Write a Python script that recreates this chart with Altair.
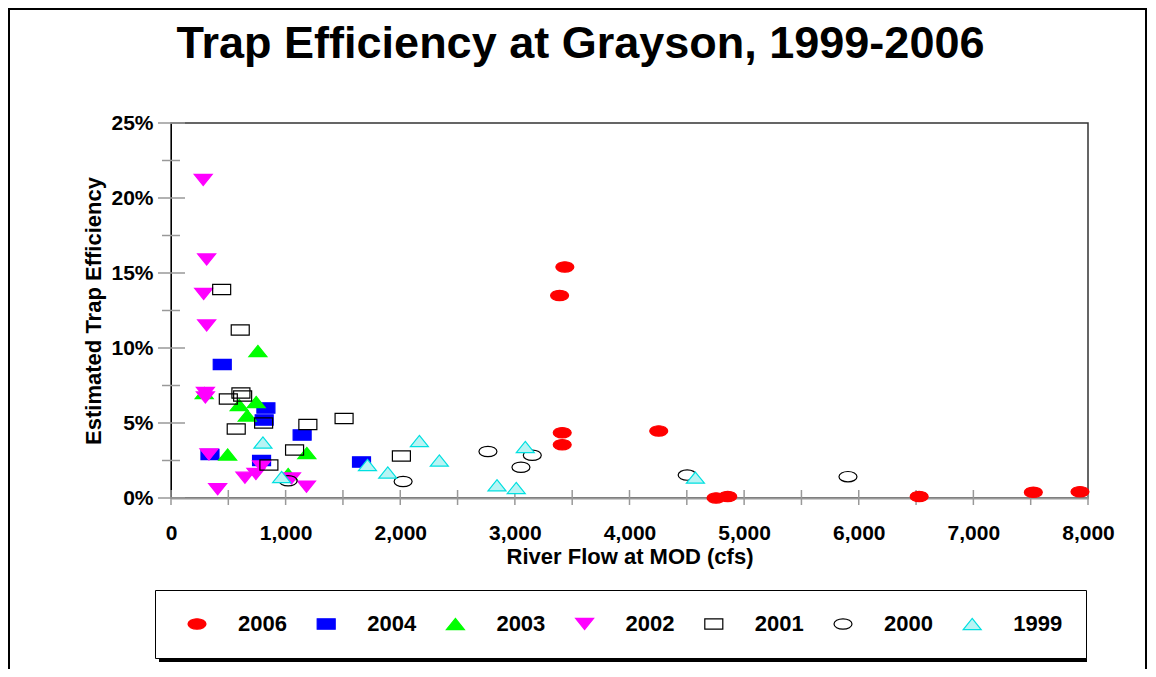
import altair as alt
import pandas as pd

years = ["2006", "2004", "2003", "2002", "2001", "2000", "1999"]

flow_2006 = [3436, 3390, 3413, 3413, 4255, 4755, 4857, 6527, 7523, 7930]
eff_2006 = [15.4, 13.5, 4.35, 3.55, 4.47, 0.0, 0.1, 0.1, 0.38, 0.42]

flow_2004 = [447, 828, 813, 1144, 340, 790, 1662]
eff_2004 = [8.9, 6.0, 5.2, 4.2, 2.9, 2.5, 2.4]

flow_2003 = [758, 290, 743, 595, 665, 494, 1185, 1022]
eff_2003 = [9.8, 7.0, 6.4, 6.2, 5.5, 2.9, 3.0, 1.6]

flow_2002 = [281, 311, 285, 311, 300, 300, 331, 645, 741, 790, 407, 1051, 1182]
eff_2002 = [21.2, 15.9, 13.6, 11.5, 7.0, 6.7, 2.9, 1.35, 1.6, 2.1, 0.58, 1.3, 0.76]

flow_2001 = [442, 604, 500, 610, 625, 808, 569, 1194, 1510, 1078, 854, 2010]
eff_2001 = [13.9, 11.2, 6.6, 7.0, 6.8, 5.0, 4.6, 4.9, 5.3, 3.2, 2.2, 2.8]

flow_2000 = [1022, 2025, 2765, 3053, 3152, 4503, 5906]
eff_2000 = [1.15, 1.1, 3.1, 2.05, 2.85, 1.53, 1.42]

flow_1999 = [802, 965, 1714, 1891, 2167, 2341, 2844, 3012, 3091, 4575]
eff_1999 = [3.7, 1.4, 2.2, 1.7, 3.8, 2.5, 0.85, 0.67, 3.4, 1.36]

x_ticks = list(range(0, 8001, 1000))
x_minor = list(range(0, 8001, 500))
y_ticks = [0, 5, 10, 15, 20, 25]
y_minor = [2.5, 7.5, 12.5, 17.5, 22.5]

series = [
    ("2006", flow_2006, eff_2006),
    ("2004", flow_2004, eff_2004),
    ("2003", flow_2003, eff_2003),
    ("2002", flow_2002, eff_2002),
    ("2001", flow_2001, eff_2001),
    ("2000", flow_2000, eff_2000),
    ("1999", flow_1999, eff_1999),
]
rows = []
for yr, xs, ys in series:
    for a, b in zip(xs, ys):
        rows.append({"year": yr, "flow": a, "eff": b})
df = pd.DataFrame(rows)

ellipse = "M-1,0A1,0.58,0,1,1,1,0A1,0.58,0,1,1,-1,0Z"
rect = "M-1,-0.58L1,-0.58L1,0.58L-1,0.58Z"
tri_up = "M0,-0.62L1,0.62L-1,0.62Z"
tri_down = "M-1,-0.62L1,-0.62L0,0.62Z"
shape_range = [ellipse, rect, tri_up, tri_down, rect, ellipse, tri_up]
fill_range = ["#ff0000", "#0000ff", "#00ff00", "#ff00ff", "transparent", "transparent", "#b8f4f4"]
stroke_range = ["#ff0000", "#0000ff", "#00ff00", "#ff00ff", "#000000", "#000000", "#00e0e0"]

FONT = "Liberation Sans"

x_scale = alt.Scale(domain=[0, 8000], nice=False, zero=True)
y_scale = alt.Scale(domain=[0, 25], nice=False, zero=True)

x_axis = alt.Axis(
    values=x_ticks, format=",d", ticks=False, grid=False, labelPadding=24,
    labelFlush=False, labelOverlap=False, domainColor="#999999", domainWidth=2,
    labelFont=FONT, labelFontSize=21, labelFontWeight="bold", labelColor="black",
    title="River Flow at MOD (cfs)", titleFont=FONT, titleFontSize=22,
    titleFontWeight="bold", titleColor="black", titleY=65, titleBaseline="alphabetic",
)
y_axis = alt.Axis(
    values=y_ticks, labelExpr="datum.value + '%'", ticks=False, grid=False,
    labelPadding=18, labelFlush=False, labelOverlap=False, domainColor="black",
    domainWidth=1, labelFont=FONT, labelFontSize=21, labelFontWeight="bold",
    labelColor="black", title="Estimated Trap Efficiency", titleFont=FONT,
    titleFontSize=22, titleFontWeight="bold", titleColor="black", titleX=-71,
    titleBaseline="alphabetic",
)

one = pd.DataFrame({"k": [0]})

# outer frame of the picture and the legend's drop shadow (decoration only)
frame = alt.Chart(one).mark_rect(fill="transparent", stroke="black", strokeWidth=2).encode(
    x=alt.value(-162), x2=alt.value(975), y=alt.value(-114), y2=alt.value(560))
shadow = alt.Chart(one).mark_rect(fill="black").encode(
    x=alt.value(-12), x2=alt.value(916), y=alt.value(471), y2=alt.value(539))

ymaj = alt.Chart(pd.DataFrame({"eff": y_ticks})).mark_rule(color="#999999", strokeWidth=1.5).encode(
    y=alt.Y("eff:Q", scale=y_scale, axis=y_axis), x=alt.value(-13), x2=alt.value(14))
ymin = alt.Chart(pd.DataFrame({"eff": y_minor})).mark_rule(color="#999999", strokeWidth=1.5).encode(
    y=alt.Y("eff:Q", scale=y_scale, axis=y_axis), x=alt.value(-9), x2=alt.value(9))
xtk = alt.Chart(pd.DataFrame({"flow": x_minor})).mark_rule(color="#999999", strokeWidth=1.5).encode(
    x=alt.X("flow:Q", scale=x_scale, axis=x_axis), y=alt.value(367), y2=alt.value(382))

legend = alt.Legend(
    title=None, orient="none", legendX=-16, legendY=467, direction="horizontal",
    columns=7, symbolSize=324, symbolStrokeWidth=1.2, symbolOffset=8, labelFont=FONT,
    labelFontSize=22, labelFontWeight="bold", labelColor="black", labelOffset=30,
    columnPadding=20.2, padding=23, strokeColor="black", fillColor="white",
    symbolOpacity=1,
)

points = alt.Chart(df).mark_point(size=324, strokeWidth=1.2, opacity=1).encode(
    x=alt.X("flow:Q", scale=x_scale, axis=x_axis),
    y=alt.Y("eff:Q", scale=y_scale, axis=y_axis),
    shape=alt.Shape("year:N", scale=alt.Scale(domain=years, range=shape_range), legend=legend),
    fill=alt.Fill("year:N", scale=alt.Scale(domain=years, range=fill_range), legend=legend),
    stroke=alt.Stroke("year:N", scale=alt.Scale(domain=years, range=stroke_range), legend=legend),
)

chart = alt.layer(frame, shadow, ymaj, ymin, xtk, points).properties(
    width=917, height=375,
    autosize=alt.AutoSizeParams(type="none"),
    padding={"left": 163, "top": 115, "right": 60, "bottom": 171},
    title=alt.TitleParams(
        "Trap Efficiency at Grayson, 1999-2006", font=FONT, fontSize=45,
        fontWeight="bold", color="black", anchor="middle", dx=-49, dy=105, offset=46,
    ),
    background="white",
).configure_view(stroke="#333333", strokeWidth=1.5)

chart.save("out.html", embed_options={"renderer": "svg", "actions": False})
